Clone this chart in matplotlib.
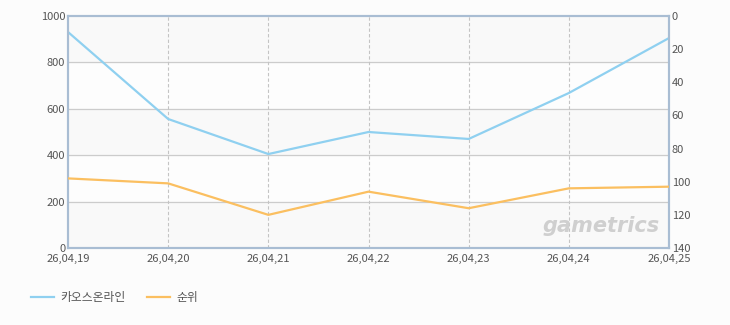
import matplotlib
matplotlib.use("Agg")
import matplotlib.pyplot as plt

plt.rcParams['font.family'] = ['Noto Sans CJK KR', 'DejaVu Sans']

dates = ["26,04,19", "26,04,20", "26,04,21", "26,04,22", "26,04,23", "26,04,24", "26,04,25"]
users = [931, 556, 405, 500, 470, 668, 905]
rank = [98, 101, 120, 106, 116, 104, 103]

blue = "#8fd0f0"
orange = "#fbbf60"
txt = "#555555"
edge = "#a9bdd3"

fig = plt.figure(figsize=(7.3, 3.25), dpi=100)
fig.patch.set_facecolor("#fcfcfc")
ax = fig.add_axes([68 / 730, 77 / 325, 601 / 730, 232 / 325])
ax.set_facecolor("#fdfdfd")

x = list(range(len(dates)))
# alternating bands
for i, lo in enumerate(range(0, 1000, 200)):
    if i % 2 == 0:
        ax.axhspan(lo, lo + 200, color="#f9f9f9", zorder=0)
for y in [200, 400, 600, 800]:
    ax.axhline(y, color="#cccccc", lw=0.9, zorder=1)
for xi in x[1:-1]:
    ax.axvline(xi, color="#c4c4c4", lw=0.8, ls=(0, (3, 2)), zorder=1)

l1, = ax.plot(x, users, color=blue, lw=1.6, zorder=3, label="카오스온라인")
ax.set_xlim(0, len(dates) - 1)
ax.set_ylim(0, 1000)
ax.set_xticks(x)
ax.set_xticklabels(dates)
ax.set_yticks(range(0, 1001, 200))

ax2 = ax.twinx()
l2, = ax2.plot(x, rank, color=orange, lw=1.6, zorder=3, label="순위")
ax2.set_ylim(140, 0)
ax2.set_yticks(range(0, 141, 20))

for a in (ax, ax2):
    for s in a.spines.values():
        s.set_color(edge)
        s.set_linewidth(1.5)
    a.tick_params(length=0, labelsize=8, colors=txt, pad=2)
ax.tick_params(axis="x", pad=4)
for lab in ax.get_yticklabels():
    lab.set_va("center_baseline")

ax.text(0.985, 0.05, "gametrics", transform=ax.transAxes, ha="right", va="bottom",
        fontsize=15, fontweight="bold", style="italic", color="#cfcfcf",
        family="DejaVu Sans", zorder=2)

fig.legend(handles=[l1, l2], loc="lower left", bbox_to_anchor=(20 / 730, 10 / 325),
           ncol=2, frameon=False, fontsize=8.5, handlelength=2.0, columnspacing=1.8,
           labelcolor=txt, handletextpad=0.5)

fig.savefig("out.png", dpi=100, facecolor=fig.get_facecolor())
